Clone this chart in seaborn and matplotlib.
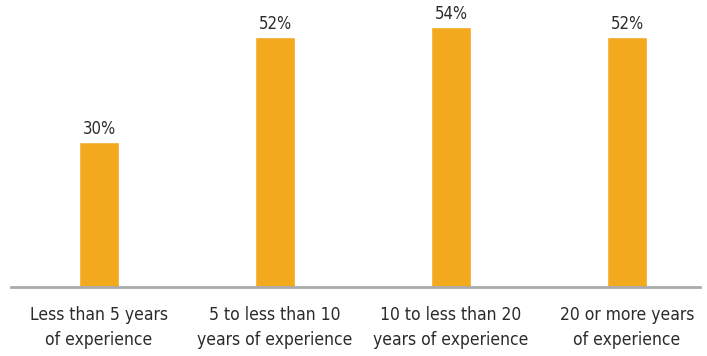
import matplotlib
matplotlib.use("Agg")
import matplotlib.pyplot as plt
import seaborn as sns
import pandas as pd

categories = ["Less than 5 years\nof experience",
              "5 to less than 10\nyears of experience",
              "10 to less than 20\nyears of experience",
              "20 or more years\nof experience"]
values = [30, 52, 54, 52]
labels = ["30%", "52%", "54%", "52%"]

sns.set_theme(style="white")
plt.rcParams['font.family'] = ['DejaVu Sans']
plt.rcParams['font.stretch'] = 'condensed'

df = pd.DataFrame({"cat": categories, "val": values})

fig = plt.figure(figsize=(7.07, 3.56), dpi=100)
ax = fig.add_axes([11/707, 1 - 286.5/356, 689/707, 286.5/356])
sns.barplot(data=df, x="cat", y="val", color="#F2A91E", saturation=1,
            width=40/176, ax=ax)
ax.set_xlim(-0.5, 3.5 - 15/176)
ax.set_ylim(0, 286.5/4.8)
for i, (v, t) in enumerate(zip(values, labels)):
    ax.text(i, v + 0.9, t, ha="center", va="bottom", fontsize=12,
            color="#2b2b2b", fontstretch="condensed")
for s in ["top", "right", "left"]:
    ax.spines[s].set_visible(False)
ax.spines["bottom"].set_color("#ababab")
ax.spines["bottom"].set_linewidth(2)
ax.set_yticks([])
ax.set_xlabel("")
ax.set_ylabel("")
ax.tick_params(axis="x", length=0, pad=14, labelsize=12.5, labelcolor="#2b2b2b")
for t in ax.get_xticklabels():
    t.set_linespacing(1.5)
    t.set_fontstretch("condensed")
fig.savefig("out.png", dpi=100)
